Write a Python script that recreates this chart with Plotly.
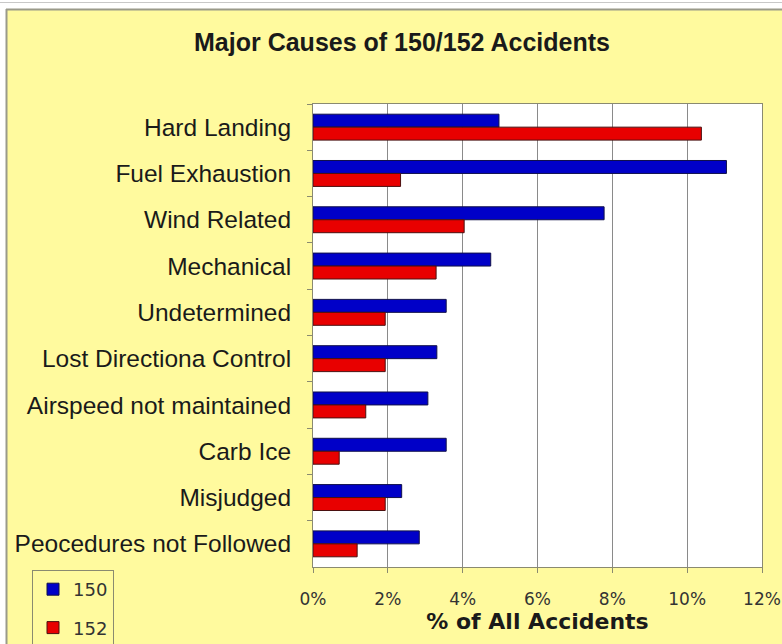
import plotly.graph_objects as go

categories = ["Hard Landing", "Fuel Exhaustion", "Wind Related", "Mechanical",
              "Undetermined", "Lost Directiona Control", "Airspeed not maintained",
              "Carb Ice", "Misjudged", "Peocedures not Followed"]
series_150 = [4.97, 11.05, 7.78, 4.75, 3.56, 3.31, 3.07, 3.56, 2.37, 2.84]
series_152 = [10.38, 2.34, 4.04, 3.29, 1.93, 1.93, 1.41, 0.70, 1.93, 1.18]
x_ticks = [0, 2, 4, 6, 8, 10, 12]
x_tick_labels = ["0%", "2%", "4%", "6%", "8%", "10%", "12%"]

W, H = 782, 644
L, R, T, B = 313, 20, 104, 77
pw, ph = W - L - R, H - T - B
YELLOW = "#FFFA9E"

def px_x(px):
    return (px - L) / pw

def px_y(py):
    return (H - B - py) / ph

fig = go.Figure()
fig.add_trace(go.Bar(
    y=categories, x=series_150, name="150", orientation="h",
    marker=dict(color="#0000C8", line=dict(color="#10104a", width=1)),
    legendgroup="a"))
fig.add_trace(go.Bar(
    y=categories, x=series_152, name="152", orientation="h",
    marker=dict(color="#E80000", line=dict(color="#4a1010", width=1)),
    legendgroup="b"))

shapes = [
    dict(type="rect", xref="paper", yref="paper", x0=px_x(-2), x1=px_x(W + 2),
         y0=px_y(9), y1=px_y(-2), fillcolor="white", line=dict(width=0), layer="below"),
    dict(type="rect", xref="paper", yref="paper", x0=px_x(-2), x1=px_x(6),
         y0=px_y(H + 2), y1=px_y(-2), fillcolor="white", line=dict(width=0), layer="below"),
    dict(type="line", xref="paper", yref="paper", x0=px_x(6), x1=px_x(W + 2),
         y0=px_y(9.5), y1=px_y(9.5), line=dict(color="#9a9a8a", width=2), layer="below"),
    dict(type="line", xref="paper", yref="paper", x0=px_x(6.5), x1=px_x(6.5),
         y0=px_y(9), y1=px_y(H + 2), line=dict(color="#9a9a8a", width=2), layer="below"),
    dict(type="line", xref="paper", yref="paper", x0=px_x(0), x1=px_x(W + 2),
         y0=px_y(2.5), y1=px_y(2.5), line=dict(color="#c8c8c8", width=1), layer="below"),
]

fig.update_layout(
    width=W, height=H,
    margin=dict(l=L, r=R, t=T, b=B, autoexpand=False),
    paper_bgcolor=YELLOW, plot_bgcolor="white",
    barmode="group", bargap=0.44, bargroupgap=0,
    title=dict(text="<b>Major Causes of 150/152 Accidents</b>",
               font=dict(family="Liberation Sans, Arial", size=25, color="#1a1a1a"),
               x=402 / W, xref="container", xanchor="center",
               y=1 - 42 / H, yref="container", yanchor="middle"),
    font=dict(family="Liberation Sans, Arial", color="#1a1a1a"),
    showlegend=True,
    legend=dict(x=px_x(32), y=px_y(570), xanchor="left", yanchor="top",
                bgcolor="rgba(0,0,0,0)", bordercolor="#8a8a70", borderwidth=1,
                font=dict(family="DejaVu Sans", size=18, color="#333333"),
                tracegroupgap=12, itemwidth=30, traceorder="grouped"),
    shapes=shapes,
)

fig.update_xaxes(
    range=[0, 12], tickvals=x_ticks, ticktext=x_tick_labels,
    showgrid=True, gridcolor="#8a8a8a", gridwidth=1,
    showline=True, linecolor="#8a8a70", linewidth=1, mirror=True,
    ticks="outside", ticklen=5, tickcolor="#8a8a70",
    tickfont=dict(family="DejaVu Sans", size=17, color="#333333"),
    ticklabelstandoff=12, zeroline=False,
    title=dict(text="<b>% of All Accidents</b>",
               font=dict(family="DejaVu Sans", size=22, color="#1a1a1a"),
               standoff=2),
)
fig.update_yaxes(
    categoryorder="array", categoryarray=categories, autorange="reversed",
    showline=True, linecolor="#8a8a70", linewidth=1, mirror=True,
    ticks="outside", ticklen=5, tickcolor="#8a8a70", tickson="boundaries",
    tickfont=dict(family="Liberation Sans, Arial", size=24.5, color="#1a1a1a"),
    ticklabelstandoff=16, showgrid=False,
)

fig.write_html("out.html")
